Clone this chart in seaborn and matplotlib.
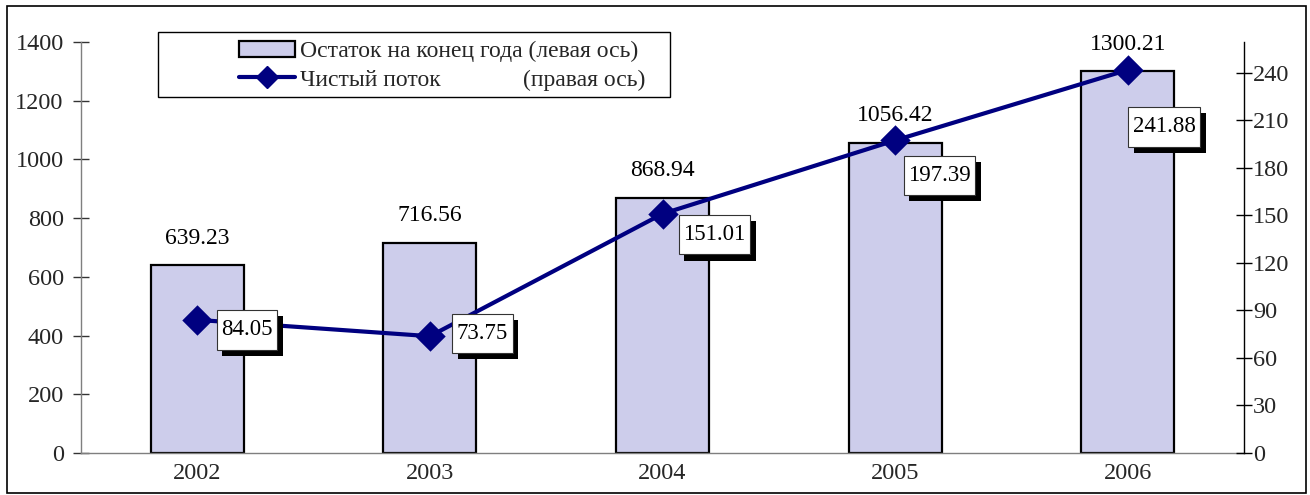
import matplotlib
matplotlib.use("Agg")
import matplotlib.pyplot as plt
from matplotlib.patches import Rectangle, Patch
from matplotlib.lines import Line2D
import matplotlib.patheffects as pe
import seaborn as sns
import pandas as pd

years = ["2002", "2003", "2004", "2005", "2006"]
balance = [639.23, 716.56, 868.94, 1056.42, 1300.21]
net_flow = [84.05, 73.75, 151.01, 197.39, 241.88]
left_ticks = [0, 200, 400, 600, 800, 1000, 1200, 1400]
right_ticks = [0, 30, 60, 90, 120, 150, 180, 210, 240]
bar_label_txt = "Остаток на конец года (левая ось)"
line_label_txt = "Чистый поток              (правая ось)"

# label placement (pixels: box-left offset from point, box-centre offset below point)
flow_label_dx = [20, 23, 17, 9, 1]
flow_label_dy = [10, -3, 21, 35, 57]

sns.set_theme(style="white")
plt.rcParams["font.family"] = ["Liberation Serif", "DejaVu Serif"]

W, H = 1310, 495
fig = plt.figure(figsize=(W / 100, H / 100), dpi=100)
x0, x1, yb, yt = 81, 1244, 453, 42
ax = fig.add_axes([x0 / W, 1 - yb / H, (x1 - x0) / W, (yb - yt) / H])

df = pd.DataFrame({"year": years, "balance": balance, "flow": net_flow})

bar_color = "#cdcdeb"
line_color = "#000080"

sns.barplot(data=df, x="year", y="balance", ax=ax, color=bar_color,
            width=0.4, edgecolor="black", linewidth=1.6, saturation=1, zorder=2)
ax.set_ylim(0, 1400)
ax.set_yticks(left_ticks)
ax.set_xlim(-0.5, 4.5)
ax.set_xlabel("")
ax.set_ylabel("")

ax2 = ax.twinx()
sns.pointplot(data=df, x="year", y="flow", ax=ax2, color=line_color,
              markers="D", linestyles="-", linewidth=3, markersize=13, zorder=3)
ax2.set_ylim(0, 259.5)
ax2.set_yticks(right_ticks)
ax2.set_xlim(-0.5, 4.5)
ax2.set_xlabel("")
ax2.set_ylabel("")
ax2.grid(False)
ax.grid(False)

fs_tick = 17.5
fs_val = 17
fs_flow = 16.5
fs_leg = 17

# bar value labels
for i, v in enumerate(balance):
    ax.annotate(f"{v:.2f}", (i, v), xytext=(0, 12), textcoords="offset points",
                ha="center", va="bottom", fontsize=fs_val, color="black")

# line value labels with shadows
px = 72 / 100
for i, v in enumerate(net_flow):
    ox = (flow_label_dx[i] + 4) * px
    oy = -flow_label_dy[i] * px
    t = ax2.annotate(f"{v:.2f}", (i, v), xytext=(ox, oy), textcoords="offset points",
                     ha="left", va="center", fontsize=fs_flow, color="black", zorder=6,
                     bbox=dict(boxstyle="square,pad=0.2", fc="white", ec="#333333", lw=0.8))
    bp = t.get_bbox_patch()
    bp.set_mutation_aspect(2.0)
    bp.set_path_effects([
        pe.SimplePatchShadow(offset=(4, -4.5), shadow_rgbFace="black", alpha=1.0),
        pe.Normal()])

# spines and ticks
ax.spines["top"].set_visible(False)
ax2.spines["top"].set_visible(False)
ax.spines["right"].set_visible(False)
ax2.spines["left"].set_visible(False)
ax2.spines["bottom"].set_visible(False)
ax.spines["left"].set_color("#7f7f7f")
ax.spines["bottom"].set_color("#7f7f7f")
ax.spines["left"].set_linewidth(1.0)
ax.spines["bottom"].set_linewidth(1.0)
ax2.spines["right"].set_color("black")
ax2.spines["right"].set_linewidth(1.0)

ax.tick_params(axis="y", which="major", direction="inout", length=11, width=1,
               color="#333333", pad=7, labelsize=fs_tick, left=True)
ax.tick_params(axis="x", length=0, pad=7, labelsize=fs_tick)
ax2.tick_params(axis="y", which="major", direction="inout", length=11, width=1,
                color="black", pad=1, labelsize=fs_tick, right=True)

# legend with separate frame
fig.patches.append(Rectangle((158 / W, 1 - 97 / H), (670 - 158) / W, (97 - 32) / H,
                             transform=fig.transFigure, fill=False, ec="black", lw=1.0))
handles = [Patch(facecolor=bar_color, edgecolor="black", linewidth=1.6),
           Line2D([0], [0], color=line_color, lw=3, marker="D", markersize=11)]
fig.legend(handles, [bar_label_txt, line_label_txt], loc="upper left",
           bbox_to_anchor=(222 / W, 1 - 24 / H), frameon=False, fontsize=fs_leg,
           handlelength=2.4, handletextpad=0.2, labelspacing=0.3, borderpad=0.2)

# outer frame
fig.patches.append(Rectangle((7 / W, 1 - 493 / H), (1306 - 7) / W, (493 - 6) / H,
                             transform=fig.transFigure, fill=False, ec="black", lw=1.2))

fig.savefig("out.png", dpi=100)
